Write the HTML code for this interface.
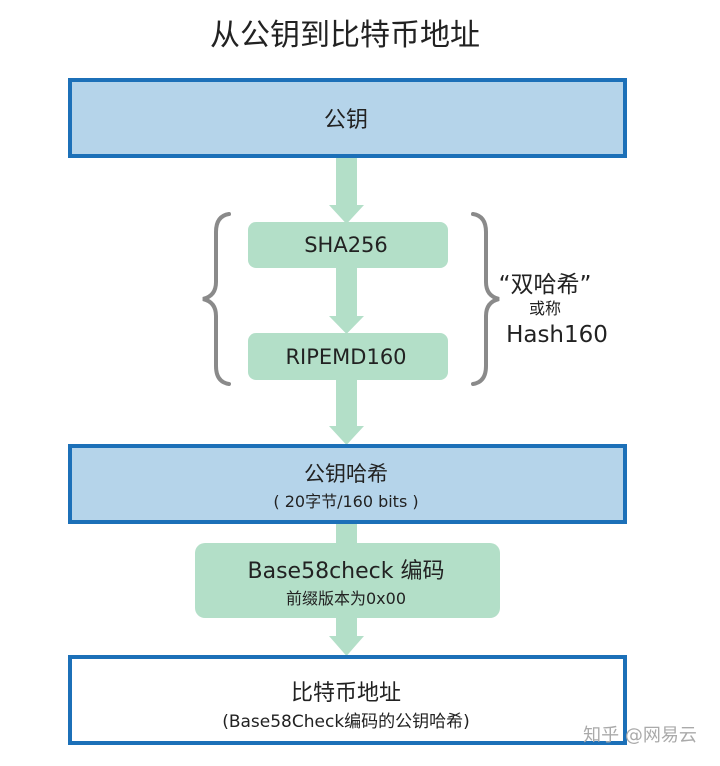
<!DOCTYPE html>
<html><head><meta charset="utf-8"><style>
html,body{margin:0;padding:0;background:#fff;}
svg{display:block;}
text{font-family:"DejaVu Sans","Noto Sans CJK SC",sans-serif;fill:#222;}
</style></head><body>
<svg width="720" height="766" viewBox="0 0 720 766" xmlns="http://www.w3.org/2000/svg">
<text x="345" y="45" font-size="30" text-anchor="middle" style="font-family:'Noto Sans CJK SC',sans-serif">从公钥到比特币地址</text>
<g fill="#b3dfc8">
<rect x="336" y="158" width="21" height="50"/><polygon points="329,205 364,205 346.5,224"/>
<rect x="336" y="268" width="21" height="50"/><polygon points="329,316 364,316 346.5,334"/>
<rect x="336" y="380" width="21" height="48"/><polygon points="329,426 364,426 346.5,445"/>
<rect x="336" y="524" width="21" height="20"/>
<rect x="336" y="618" width="21" height="20"/><polygon points="329,636 364,636 346.5,656"/>
</g>
<rect x="70" y="80" width="555" height="76" fill="#b5d4ea" stroke="#1c70b8" stroke-width="4"/>
<text x="346" y="127" font-size="22" text-anchor="middle">公钥</text>
<rect x="248" y="222" width="200" height="46" rx="8" fill="#b3dfc8"/>
<text x="346" y="252" font-size="21" text-anchor="middle">SHA256</text>
<rect x="248" y="333" width="200" height="47" rx="8" fill="#b3dfc8"/>
<text x="346" y="364" font-size="21" text-anchor="middle">RIPEMD160</text>
<g fill="none" stroke="#8a8a8a" stroke-width="4" stroke-linecap="round">
<path d="M229,214 Q216,216 216,232 L216,282 Q216,296 203,299 Q216,302 216,316 L216,366 Q216,382 229,384"/>
<path d="M473,214 Q486,216 486,232 L486,282 Q486,296 499,299 Q486,302 486,316 L486,366 Q486,382 473,384"/>
</g>
<text x="545" y="292" font-size="23" text-anchor="middle">“双哈希”</text>
<text x="545" y="314" font-size="16" text-anchor="middle">或称</text>
<text x="557" y="342" font-size="23" text-anchor="middle">Hash160</text>
<rect x="70" y="446" width="555" height="76" fill="#b5d4ea" stroke="#1c70b8" stroke-width="4"/>
<text x="346" y="481" font-size="21" text-anchor="middle">公钥哈希</text>
<text x="346" y="507" font-size="16" text-anchor="middle">( 20字节/160 bits )</text>
<rect x="195" y="543" width="305" height="75" rx="10" fill="#b3dfc8"/>
<text x="346" y="578" font-size="22" text-anchor="middle">Base58check 编码</text>
<text x="346" y="604" font-size="16" text-anchor="middle">前缀版本为0x00</text>
<rect x="70" y="657" width="555" height="86" fill="#fff" stroke="#1c70b8" stroke-width="4"/>
<text x="346" y="700" font-size="22" text-anchor="middle">比特币地址</text>
<text x="346" y="727" font-size="17" text-anchor="middle">(Base58Check编码的公钥哈希)</text>
<text x="640" y="741" font-size="18" text-anchor="middle" style="fill:#aaa">知乎 @网易云</text>
</svg>
</body></html>
